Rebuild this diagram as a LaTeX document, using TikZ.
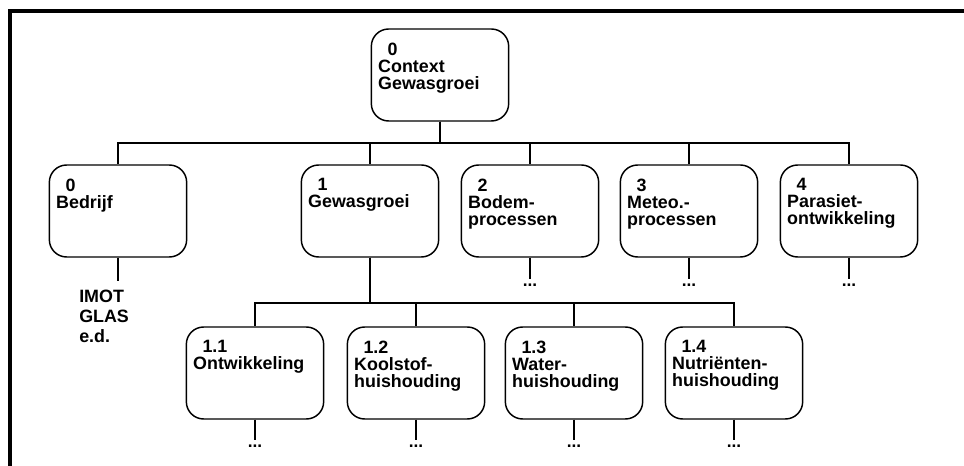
\documentclass[tikz,border=0pt]{standalone}
\usepackage{fontspec}
\setmainfont{Liberation Sans}
\usepackage{tikz}
\usetikzlibrary{positioning,calc}
\newcommand{\boxfont}{\bfseries\fontsize{13.4}{12.8}\selectfont}
\tikzset{
  unit/.style={draw,line width=1.1pt,rounded corners=13pt,
    minimum width=103pt,minimum height=69pt,inner sep=0pt},
  tag/.style={anchor=north west,align=left,inner sep=0pt,
    xshift=5.5pt,yshift=-10.5pt,font=\boxfont},
  link/.style={line width=1pt},
  more/.style={font=\bfseries\fontsize{13}{13}\selectfont,inner sep=0pt},
  frame/.style={line width=3pt}
}
\newcommand{\num}[1]{\hspace*{7pt}#1}

\begin{document}
\begin{tikzpicture}[x=0.75pt,y=-0.75pt]
  \useasboundingbox (0,0) rectangle (964,466);
  \draw[frame] (10,466) -- (10,11) -- (964,11);
  % top level
  \node[unit,label={[tag]north west:\num{0}\\Context\\Gewasgroei}] (root) at (440,75) {};
  % first level
  \node[unit,label={[tag]north west:\num{0}\\Bedrijf}] (b0) at (118,211) {};
  \node[unit,label={[tag]north west:\num{1}\\Gewasgroei}] (b1) at (370,211) {};
  \node[unit,label={[tag]north west:\num{2}\\Bodem-\\processen}] (b2) at (530,211) {};
  \node[unit,label={[tag]north west:\num{3}\\Meteo.-\\processen}] (b3) at (689,211) {};
  \node[unit,label={[tag]north west:\num{4}\\Parasiet-\\ontwikkeling}] (b4) at (849,211) {};
  % second level
  \node[unit,label={[tag]north west:\num{1.1}\\Ontwikkeling}] (b11) at (255,373) {};
  \node[unit,label={[tag]north west:\num{1.2}\\Koolstof-\\huishouding}] (b12) at (416,373) {};
  \node[unit,label={[tag]north west:\num{1.3}\\Water-\\huishouding}] (b13) at (574,373) {};
  \node[unit,label={[tag]north west:\num{1.4}\\Nutriënten-\\huishouding}] (b14) at (734,373) {};
  % buses and rows
  \coordinate (bus1) at (0,143);
  \coordinate (bus2) at (0,303);
  \coordinate (row1) at (0,285);
  \coordinate (row2) at (0,446);
  \foreach \n in {b0,b1,b2,b3,b4}
    \draw[link] (root.south) -- (root.south |- bus1) -| (\n.north);
  \foreach \n in {b11,b12,b13,b14}
    \draw[link] (b1.south) -- (b1.south |- bus2) -| (\n.north);
  % continuations
  \foreach \n in {b2,b3,b4}{
    \node[more] (m\n) at (\n |- row1) {...};
    \draw[link,shorten >=3pt] (\n) -- (m\n);
  }
  \foreach \n in {b11,b12,b13,b14}{
    \node[more] (m\n) at (\n |- row2) {...};
    \draw[link,shorten >=3pt] (\n) -- (m\n);
  }
  \node[anchor=north west,align=left,inner sep=0pt,
    font=\bfseries\fontsize{13.4}{15}\selectfont] (imot) at (79,290) {IMOT\\GLAS\\e.d.};
  \draw[link,shorten >=7pt] (b0.south) -- (b0.south |- imot.north);
\end{tikzpicture}
\end{document}
